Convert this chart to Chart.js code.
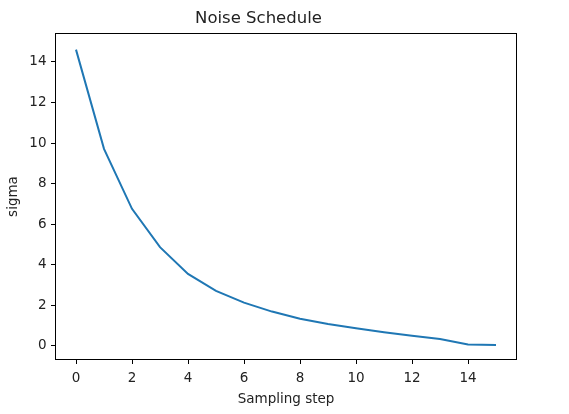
<!DOCTYPE html>
<html>
<head>
<meta charset="utf-8">
<script src="https://cdn.jsdelivr.net/npm/chart.js@4"></script>
<style>
html,body{margin:0;padding:0;background:#fff;}
#wrap{width:569px;height:414px;position:relative;}
</style>
</head>
<body>
<div id="wrap"><canvas id="c" width="569" height="414"></canvas></div>
<script>
const steps = [0,1,2,3,4,5,6,7,8,9,10,11,12,13,14,15];
const sigma = [14.61,9.71,6.75,4.86,3.54,2.70,2.12,1.68,1.33,1.07,0.86,0.66,0.49,0.33,0.05,0.03];
const xTicks = [0,2,4,6,8,10,12,14];
const yTicks = [0,2,4,6,8,10,12,14];

const FONT = "'DejaVu Sans', sans-serif";
const TXT = '#222';

const boxPlugin = {
  id: 'box',
  afterDraw(chart) {
    const a = chart.chartArea, ctx = chart.ctx;
    ctx.save();
    ctx.strokeStyle = '#000';
    ctx.lineWidth = 1;
    ctx.strokeRect(Math.round(a.left)+0.5, Math.round(a.top)+0.5, Math.round(a.right-a.left)-1, Math.round(a.bottom-a.top)-1);
    ctx.restore();
  }
};

new Chart(document.getElementById('c'), {
  type: 'line',
  data: {
    datasets: [{
      data: steps.map((s,i)=>({x:s, y:sigma[i]})),
      borderColor: '#1f77b4',
      borderWidth: 2,
      pointRadius: 0,
      tension: 0,
      fill: false
    }]
  },
  options: {
    responsive: false,
    animation: false,
    devicePixelRatio: 1,
    layout: { padding: { left: 0, right: 52, top: 0, bottom: 0 } },
    plugins: {
      legend: { display: false },
      tooltip: { enabled: false },
      title: {
        display: true,
        text: 'Noise Schedule',
        color: TXT,
        font: { family: FONT, size: 16.5, weight: 'normal' },
        padding: { top: 9.1, bottom: 4.1 }
      }
    },
    scales: {
      x: {
        type: 'linear',
        min: -0.75,
        max: 15.75,
        afterBuildTicks(axis){ axis.ticks = xTicks.map(v=>({value:v})); },
        afterFit(axis){ axis.height = 54; axis.paddingLeft = 0; axis.paddingRight = 0; },
        grid: { display: true, drawOnChartArea: false, drawTicks: true, tickLength: 4, color: '#000', tickColor: '#000' },
        border: { display: false },
        ticks: { color: TXT, font: { family: FONT, size: 13.5 }, padding: 6, maxRotation: 0, autoSkip: false },
        title: { display: true, text: 'Sampling step', color: TXT, font: { family: FONT, size: 13.5 }, padding: { top: 2, bottom: 6 } }
      },
      y: {
        type: 'linear',
        min: -0.71,
        max: 15.43,
        afterBuildTicks(axis){ axis.ticks = yTicks.map(v=>({value:v})); },
        afterFit(axis){ axis.width = 55; axis.paddingTop = 0; axis.paddingBottom = 0; },
        grid: { display: true, drawOnChartArea: false, drawTicks: true, tickLength: 4, color: '#000', tickColor: '#000' },
        border: { display: false },
        ticks: { color: TXT, font: { family: FONT, size: 13.5 }, padding: 4.5, autoSkip: false },
        title: { display: true, text: 'sigma', color: TXT, font: { family: FONT, size: 13.5 }, padding: { top: 5, bottom: 4 } }
      }
    }
  },
  plugins: [boxPlugin]
});
</script>
</body>
</html>
